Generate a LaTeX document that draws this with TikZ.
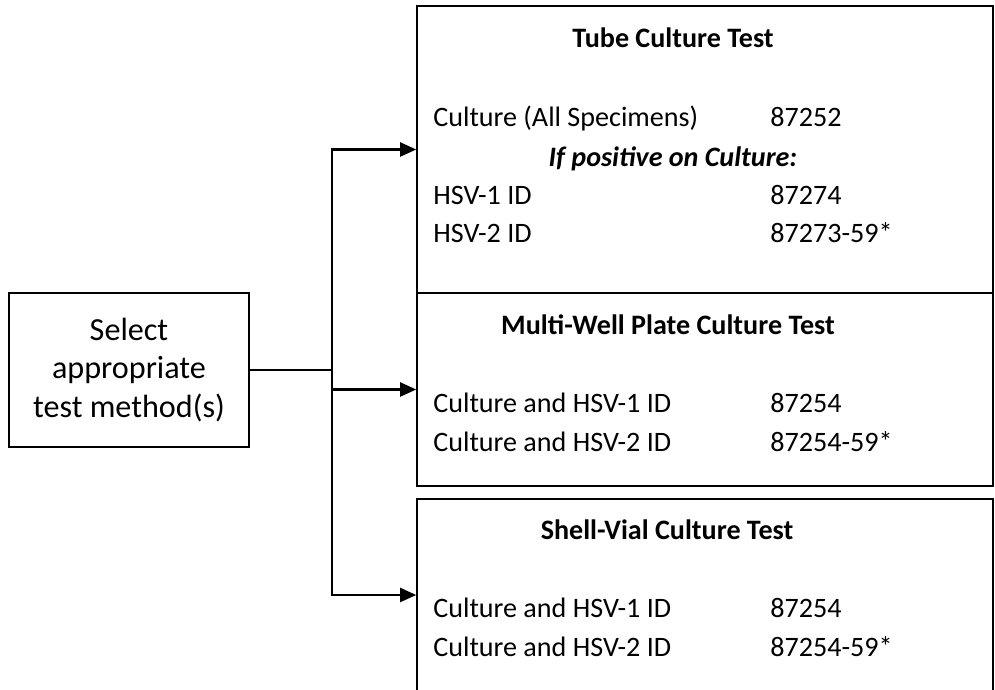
\documentclass[tikz,border=0pt]{standalone}
\usepackage{fontspec}
\setmainfont{Carlito}
\usetikzlibrary{arrows.meta, positioning}

\begin{document}
\begin{tikzpicture}[
  x=0.02cm,y=-0.02cm,
  font=\fontsize{16}{21.9}\selectfont,
  selbox/.style={
    rectangle, draw=black, line width=1pt,
    minimum width=4.8cm, minimum height=3.08cm,
    align=center, inner sep=0pt, font=\fontsize{18.3}{21.9}\selectfont
  },
  testbox/.style={
    rectangle, draw=black, line width=1pt,
    minimum width=11.52cm, inner sep=0pt
  },
  title/.style={anchor=base, inner sep=0pt, font=\fontsize{16}{21.9}\selectfont\bfseries},
  row/.style={anchor=base west, inner sep=0pt},
  link/.style={line width=1.2pt, draw=black},
  arrow/.style={link, -{Triangle[length=0.32cm,width=0.28cm]}}
]
\path[use as bounding box, clip] (0,0) rectangle (995,690);

% ---- Start box on the left ----
\node[selbox] (sel) at (129,370) {Select\\appropriate\\test method(s)};

% ---- Three test boxes on the right ----
\node[testbox, minimum height=5.74cm] (tube)  at (705,149.5) {};
\node[testbox, minimum height=3.86cm] (plate) at (705,389.5) {};
\node[testbox, minimum height=3.84cm] (vial)  at (705,595) {};

% ---- Tube culture ----
\node[title] (tubeT) at (673,47) {Tube Culture Test};
\node[row] (tubeA) at (433,126) {Culture (All Specimens)};
\node[row] (tubeAn) at (770,126) {87252};
\node[title, font=\fontsize{16}{21.9}\selectfont\bfseries\itshape] (tubeP) at (673,166) {If positive on Culture:};
\node[row] (tubeB) at (433,204) {HSV-1 ID};
\node[row] (tubeBn) at (770,204) {87274};
\node[row] (tubeC) at (433,242) {HSV-2 ID};
\node[row] (tubeCn) at (770,242) {87273-59*};

% ---- Multi-well plate ----
\node[title] (plateT) at (668,334) {Multi-Well Plate Culture Test};
\node[row] (plateA) at (433,412) {Culture and HSV-1 ID};
\node[row] (plateAn) at (770,412) {87254};
\node[row] (plateB) at (433,451) {Culture and HSV-2 ID};
\node[row] (plateBn) at (770,451) {87254-59*};

% ---- Shell vial ----
\node[title] (vialT) at (667,539) {Shell-Vial Culture Test};
\node[row] (vialA) at (433,617) {Culture and HSV-1 ID};
\node[row] (vialAn) at (770,617) {87254};
\node[row] (vialB) at (433,656) {Culture and HSV-2 ID};
\node[row] (vialBn) at (770,656) {87254-59*};

% ---- Connectors ----
\coordinate (jn) at (332,370);
\draw[link] (sel.east) -- (jn);
\foreach \bx in {tube,plate,vial}{
  \draw[arrow] (jn) |- (\bx.west);
}

\end{tikzpicture}
\end{document}
